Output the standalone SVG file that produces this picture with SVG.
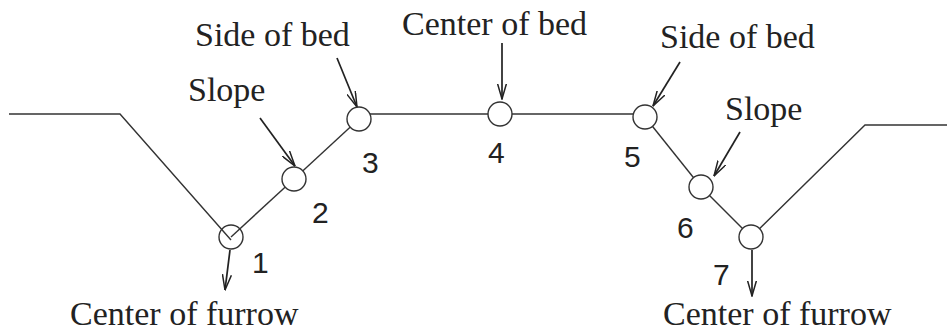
<svg xmlns="http://www.w3.org/2000/svg" width="947" height="336" viewBox="0 0 947 336">
<defs>
<marker id="ah" viewBox="0 0 16 10" refX="15.5" refY="5" markerWidth="16" markerHeight="10" markerUnits="userSpaceOnUse" orient="auto">
<path d="M0,0.5 L15.5,5 L0,9.5" fill="none" stroke="#222" stroke-width="1.5"/>
</marker>
<style>
.ln{stroke:#333;stroke-width:1.4;fill:none}
.ar{stroke:#222;stroke-width:1.7;fill:none;marker-end:url(#ah)}
.nd{fill:#fff;stroke:#333;stroke-width:1.4}
.lb{font-family:"Liberation Serif","Times New Roman",serif;font-size:34px;fill:#222}
.num{font-family:"Liberation Sans",Arial,sans-serif;font-size:30px;fill:#222}
</style>
</defs>
<rect width="947" height="336" fill="#fff"/>
<g id="connectors">
<path class="ln" d="M9,114 H120 L231,240"/>
<line class="ln" x1="231" y1="237" x2="294" y2="179"/>
<line class="ln" x1="294" y1="179" x2="359" y2="119"/>
<line class="ln" x1="368" y1="114" x2="636" y2="114"/>
<line class="ln" x1="645" y1="117" x2="701" y2="187"/>
<line class="ln" x1="701" y1="187" x2="751" y2="237"/>
<path class="ln" d="M751,237 L865,125 H947"/>
<line class="ar" x1="337" y1="58" x2="357" y2="107"/>
<line class="ar" x1="260" y1="118" x2="295" y2="166"/>
<line class="ar" x1="502" y1="43" x2="502" y2="99"/>
<line class="ar" x1="680" y1="62" x2="653" y2="106"/>
<line class="ar" x1="740" y1="132" x2="714" y2="176"/>
<line class="ar" x1="230" y1="250" x2="225" y2="290"/>
<line class="ar" x1="752" y1="250" x2="752" y2="296"/>
</g>
<g id="node1"><circle class="nd" cx="231" cy="237" r="12" fill-opacity="0"/><text class="num" x="252" y="273">1</text></g>
<g id="node2"><circle class="nd" cx="294" cy="179" r="12"/><text class="num" x="312" y="223">2</text></g>
<g id="node3"><circle class="nd" cx="359" cy="119" r="12"/><text class="num" x="362" y="173">3</text></g>
<g id="node4"><circle class="nd" cx="500" cy="114" r="12"/><text class="num" x="488" y="163">4</text></g>
<g id="node5"><circle class="nd" cx="645" cy="117" r="12"/><text class="num" x="624" y="167">5</text></g>
<g id="node6"><circle class="nd" cx="701" cy="187" r="12"/><text class="num" x="677" y="238">6</text></g>
<g id="node7"><circle class="nd" cx="751" cy="237" r="12"/><text class="num" x="713" y="285">7</text></g>
<g id="labels">
<text class="lb" x="195" y="46">Side of bed</text>
<text class="lb" x="188" y="101">Slope</text>
<text class="lb" x="402" y="35">Center of bed</text>
<text class="lb" x="660" y="48">Side of bed</text>
<text class="lb" x="725" y="120">Slope</text>
<text class="lb" x="70" y="325">Center of furrow</text>
<text class="lb" x="663" y="325">Center of furrow</text>
</g>
</svg>
